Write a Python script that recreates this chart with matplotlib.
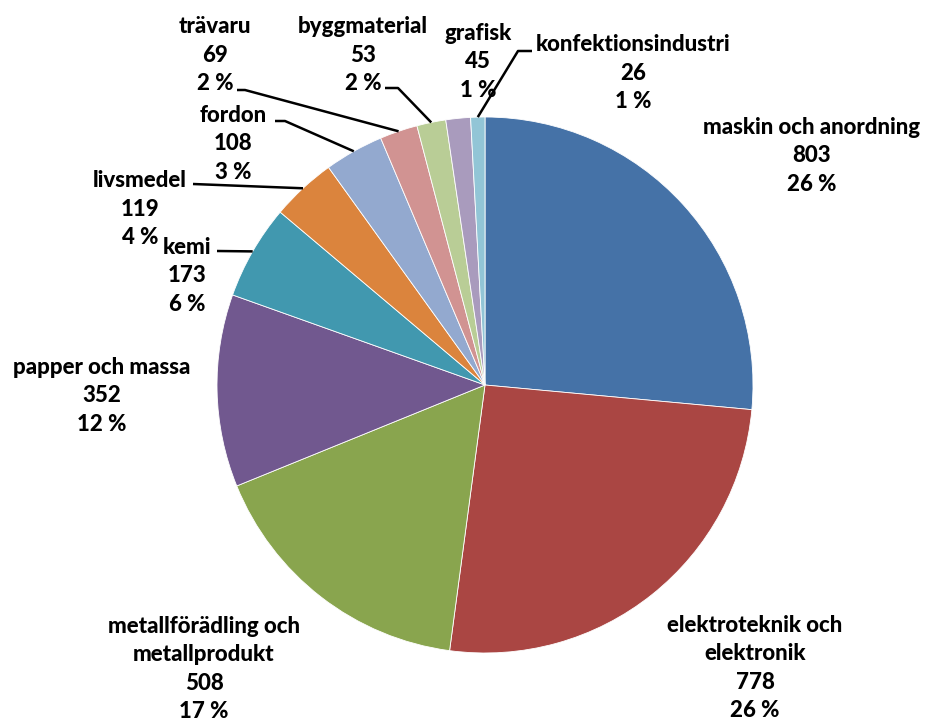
import numpy as np
import matplotlib
matplotlib.use("AGG")
import matplotlib.pyplot as plt

# Data
categories = ["maskin och anordning", "elektroteknik och\nelektronik",
              "metallförädling och\nmetallprodukt", "papper och massa", "kemi",
              "livsmedel", "fordon", "trävaru", "byggmaterial", "grafisk",
              "konfektionsindustri"]
values = [803, 778, 508, 352, 173, 119, 108, 69, 53, 45, 26]
pct_labels = ["26 %", "26 %", "17 %", "12 %", "6 %", "4 %", "3 %", "2 %", "2 %", "1 %", "1 %"]

colors = ["#4572A7", "#AA4643", "#89A54E", "#71588F", "#4198AF", "#DB843D",
          "#93A9CF", "#D19392", "#B9CD96", "#A99BBD", "#92C5D6"]

# layout (pixel coords of the 925x722 canvas, y measured from top)
W, H = 925, 722
cx, cy, R = 485, 385, 268
label_pos = [(812, 156), (755, 668), (204, 669), (102, 396), (187, 276),
             (140, 209), (233, 144), (215, 55), (363, 55), (478, 62), (633, 73)]
# leader line start (x, y) and optional elbow x; None -> no leader
leaders = [None, None, None, None,
           ((217, 251), None),
           ((193, 184), None),
           ((275, 121), 285),
           ((237, 90), 245),
           ((385, 88), 398),
           None,
           ((532, 51), 518)]

plt.rcParams['font.family'] = ['Lato', 'DejaVu Sans']

fig = plt.figure(figsize=(W / 100, H / 100), dpi=100)
ax = fig.add_axes([0, 0, 1, 1])

wedges, _ = ax.pie(values, colors=colors, startangle=90, counterclock=False,
                   center=(cx, H - cy), radius=R, frame=True,
                   wedgeprops=dict(edgecolor="white", linewidth=0.6))
ax.set_xlim(0, W)
ax.set_ylim(0, H)
ax.set_aspect("equal")
ax.axis("off")

for i, w in enumerate(wedges):
    lx, ly = label_pos[i]
    ax.text(lx, H - ly, "{}\n{}\n{}".format(categories[i], values[i], pct_labels[i]),
            ha="center", va="center", multialignment="center",
            fontsize=16, fontweight="black", linespacing=1.45, color="black")
    if leaders[i] is not None:
        (sx, sy), ex = leaders[i]
        mid = np.deg2rad((w.theta1 + w.theta2) / 2)
        px = cx + R * np.cos(mid)
        py = H - cy + R * np.sin(mid)
        xs = [sx]
        ys = [H - sy]
        if ex is not None:
            xs.append(ex)
            ys.append(H - sy)
        xs.append(px)
        ys.append(py)
        ax.plot(xs, ys, color="black", lw=1.8, solid_capstyle="butt")

fig.savefig("out.png", dpi=100)
